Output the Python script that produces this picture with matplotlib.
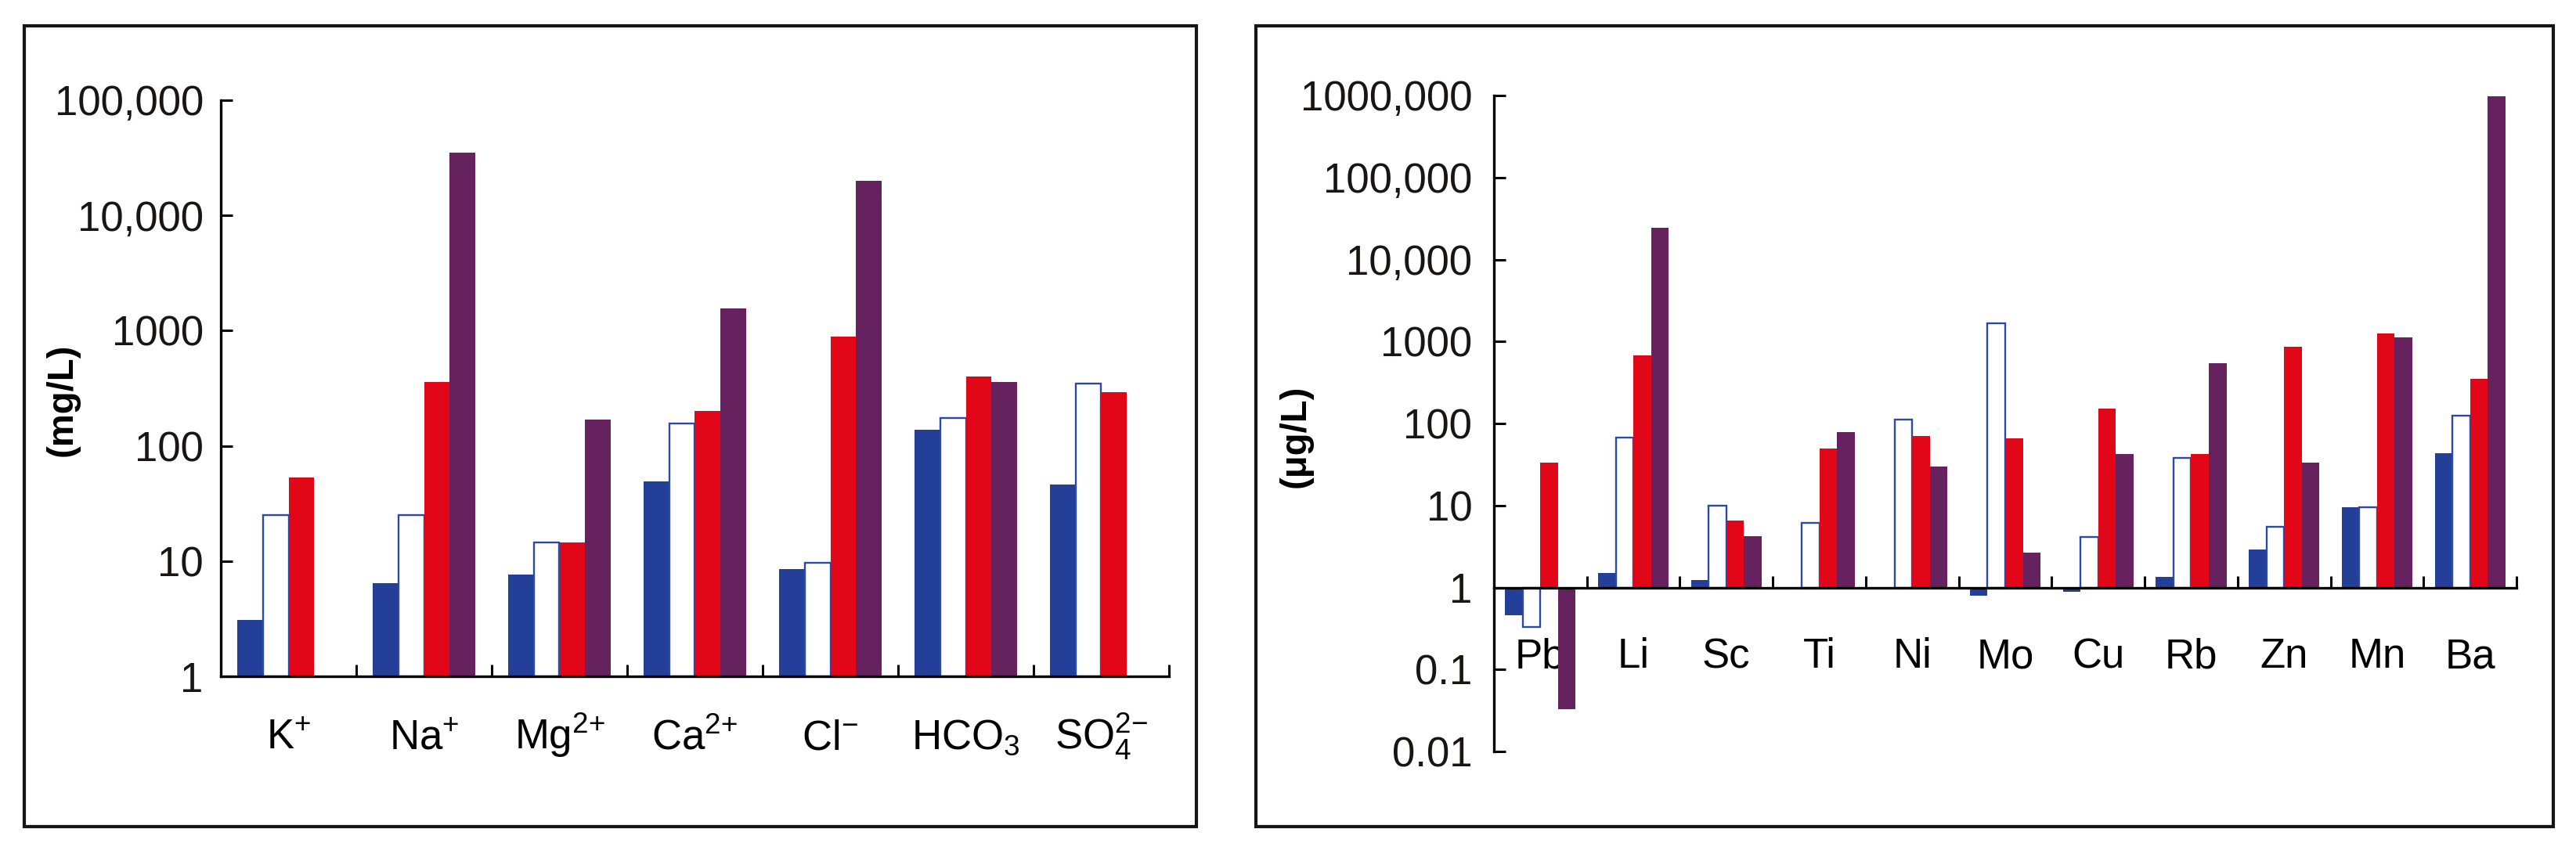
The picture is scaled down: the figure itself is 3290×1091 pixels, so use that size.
import numpy as np
import matplotlib
matplotlib.use("Agg")
import matplotlib.pyplot as plt
from matplotlib.patches import Rectangle
from matplotlib.ticker import FixedLocator, NullLocator

plt.rcParams['font.family'] = ['Liberation Sans', 'DejaVu Sans']
plt.rcParams['mathtext.fontset'] = 'custom'
plt.rcParams['mathtext.rm'] = 'Liberation Sans'
plt.rcParams['mathtext.it'] = 'Liberation Sans'
plt.rcParams['mathtext.default'] = 'regular'

# ---------------- data: left panel (mg/L) ----------------
ions = [r'K$^{+}$', r'Na$^{+}$', r'Mg$^{2{+}}$', r'Ca$^{2{+}}$', r'Cl$^{-}$', r'HCO$_{3}$', r'SO$_{4}^{2{-}}$']
ion_s1 = [3.1, 6.4, 7.6, 49, 8.5, 137, 46]                 # solid blue
ion_s2 = [25, 25, 14.5, 156, 9.6, 174, 349]                # open (blue outline)
ion_s3 = [53, 360, 14.5, 201, 885, 399, 292]               # red
ion_s4 = [np.nan, 35000, 168, 1560, 20100, 357, np.nan]    # purple
ion_yticks = [1, 10, 100, 1000, 10000, 100000]
ion_yticklabels = ['1', '10', '100', '1000', '10,000', '100,000']

# ---------------- data: right panel (ug/L) ----------------
elems = ['Pb', 'Li', 'Sc', 'Ti', 'Ni', 'Mo', 'Cu', 'Rb', 'Zn', 'Mn', 'Ba']
el_s1 = [0.46, 1.5, 1.24, np.nan, np.nan, 0.8, 0.89, 1.36, 2.9, 9.5, 43]
el_s2 = [0.33, 67, 10, 6.1, 111, 1650, 4.1, 38, 5.5, 9.5, 124]
el_s3 = [33, 680, 6.6, 49, 71, 66, 151, 42, 860, 1260, 347]
el_s4 = [0.033, 24400, 4.2, 78, 30, 2.65, 42, 541, 33, 1130, 970000]
el_yticks = [0.01, 0.1, 1, 10, 100, 1000, 10000, 100000, 1000000]
el_yticklabels = ['0.01', '0.1', '1', '10', '100', '1000', '10,000', '100,000', '1000,000']

BLUE = '#243F97'
EDGE = '#2D49A6'
RED = '#E10718'
PURPLE = '#66225F'

W, H = 3290, 1091
fig = plt.figure(figsize=(W / 100, H / 100), dpi=100)


def px_axes(x0, x1, ytop, ybot):
    return fig.add_axes([x0 / W, 1 - ybot / H, (x1 - x0) / W, (ybot - ytop) / H])


def draw_bars(ax, series, base=1.0, w=0.19):
    n = len(series[0])
    centers = np.arange(n) + 0.5
    offs = [-1.5, -0.5, 0.5, 1.5]
    styles = [dict(color=BLUE, linewidth=0),
              dict(facecolor='white', edgecolor=EDGE, linewidth=1.7),
              dict(color=RED, linewidth=0),
              dict(color=PURPLE, linewidth=0)]
    for vals, off, st in zip(series, offs, styles):
        v = np.array(vals, dtype=float)
        m = ~np.isnan(v)
        ax.bar(centers[m] + off * w, v[m] - base, bottom=base, width=w,
               align='center', zorder=2, **st)
    return centers


def style_axes(ax, n, labels, yticks, yticklabels, ylim, xpad, ypad):
    ax.set_yscale('log')
    ax.set_ylim(*ylim)
    ax.set_xlim(0, n)
    for s in ['top', 'right']:
        ax.spines[s].set_visible(False)
    for s in ['left', 'bottom']:
        ax.spines[s].set_linewidth(2.4)
        ax.spines[s].set_color('black')
        ax.spines[s].set_zorder(3)
    ax.yaxis.set_major_locator(FixedLocator(yticks))
    ax.yaxis.set_minor_locator(NullLocator())
    ax.set_yticklabels(yticklabels)
    ax.tick_params(axis='y', which='major', direction='in', length=11, width=2.2,
                   labelsize=38, pad=ypad, colors='black', labelcolor='#1a1414')
    ax.set_xticks(np.arange(n) + 0.5)
    ax.set_xticklabels(labels)
    ax.xaxis.set_minor_locator(FixedLocator(np.arange(1, n + 1)))
    ax.tick_params(axis='x', which='major', direction='in', length=0, labelsize=38, pad=xpad)
    ax.tick_params(axis='x', which='minor', direction='in', length=11, width=2.2)
    for lab in ax.get_xticklabels():
        lab.set_verticalalignment('baseline')


# ---------------- left panel ----------------
ax1 = px_axes(282, 1493, 128, 864)
draw_bars(ax1, [ion_s1, ion_s2, ion_s3, ion_s4])
style_axes(ax1, len(ions), ions, ion_yticks, ion_yticklabels, (1, 100000), xpad=67, ypad=16)
ax1.set_ylabel('(mg/L)', fontsize=34, fontweight='bold')
ax1.yaxis.set_label_coords(-0.149, 0.48)

# ---------------- right panel ----------------
ax2 = px_axes(1908, 3214, 122, 960)
draw_bars(ax2, [el_s1, el_s2, el_s3, el_s4])
style_axes(ax2, len(elems), elems, el_yticks, el_yticklabels, (0.01, 1000000), xpad=46, ypad=20)
ax2.spines['bottom'].set_position(('data', 1))
ax2.set_ylabel('(μg/L)', fontsize=34, fontweight='bold')
ax2.yaxis.set_label_coords(-0.177, 0.48)

# ---------------- panel frames ----------------
for x0, x1 in [(31, 1528), (1604, 3261)]:
    fig.add_artist(Rectangle((x0 / W, 1 - 1056 / H), (x1 - x0) / W, (1056 - 33) / H,
                             transform=fig.transFigure, fill=False,
                             edgecolor='#151515', linewidth=3))

fig.savefig('out.png', dpi=100, facecolor='white')
